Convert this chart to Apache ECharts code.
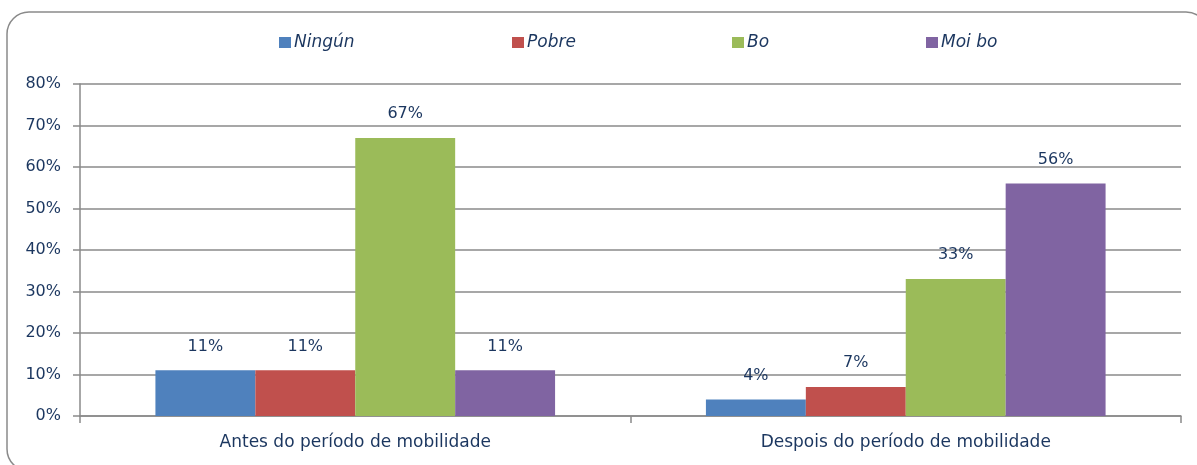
<!DOCTYPE html>
<html>
<head>
<meta charset="utf-8">
<script src="https://cdn.jsdelivr.net/npm/echarts@6/dist/echarts.min.js"></script>
<style>
  html, body { margin: 0; padding: 0; background: #fff; }
  #chart { width: 1197px; height: 465px; }
</style>
</head>
<body>
<div id="chart"></div>
<script>
// Periods compared and the rating shares for each
const categories = ['Antes do período de mobilidade', 'Despois do período de mobilidade'];
const seriesNames = ['Ningún', 'Pobre', 'Bo', 'Moi bo'];
const ningun = [11, 4];
const pobre = [11, 7];
const bo = [67, 33];
const moiBo = [11, 56];
const yTicks = [0, 10, 20, 30, 40, 50, 60, 70, 80];

const colors = ['#4f81bd', '#c0504d', '#9bbb59', '#8064a2'];
const textColor = '#1b365f';
const lineColor = '#8a8a8a';
const fontFamily = 'DejaVu Sans, sans-serif';

const values = [ningun, pobre, bo, moiBo];
const legendLeft = [279, 512, 732, 926];

const chart = echarts.init(document.getElementById('chart'), null, { renderer: 'canvas' });

chart.setOption({
  animation: false,
  textStyle: { fontFamily: fontFamily },
  graphic: [{
    type: 'rect',
    shape: { x: 7, y: 12, width: 1201, height: 459, r: 22 },
    style: { fill: 'none', stroke: '#8a8a8a', lineWidth: 1.5 },
    silent: true
  }],
  legend: seriesNames.map((name, i) => ({
    data: [name],
    left: legendLeft[i],
    top: 34,
    padding: 0,
    itemWidth: 12,
    itemHeight: 11,
    itemGap: 3,
    icon: 'rect',
    textStyle: { color: textColor, fontSize: 17, fontStyle: 'italic', fontFamily: fontFamily, padding: [0, 0, 0, -2] }
  })),
  grid: { left: 80, right: 16, top: 84, bottom: 49 },
  xAxis: {
    type: 'category',
    data: categories,
    axisLine: { lineStyle: { color: lineColor, width: 1.5 } },
    axisTick: { show: true, length: 7, lineStyle: { color: lineColor, width: 1.5 } },
    axisLabel: { color: textColor, fontSize: 17, margin: 18, fontFamily: fontFamily }
  },
  yAxis: {
    type: 'value',
    min: yTicks[0],
    max: yTicks[yTicks.length - 1],
    interval: 10,
    axisLine: { show: true, lineStyle: { color: lineColor, width: 1.5 } },
    axisTick: { show: true, length: 7, lineStyle: { color: lineColor, width: 1.5 } },
    splitLine: { lineStyle: { color: lineColor, width: 1.5 } },
    axisLabel: { color: textColor, fontSize: 16, margin: 19, formatter: v => v + '%', fontFamily: fontFamily }
  },
  series: seriesNames.map((name, i) => ({
    name: name,
    type: 'bar',
    data: values[i],
    barGap: '0%',
    barCategoryGap: '27.4%',
    itemStyle: { color: colors[i] },
    label: {
      show: true,
      position: 'top',
      distance: 16,
      color: textColor,
      fontSize: 16,
      fontFamily: fontFamily,
      formatter: p => p.value + '%'
    }
  }))
});
</script>
</body>
</html>
